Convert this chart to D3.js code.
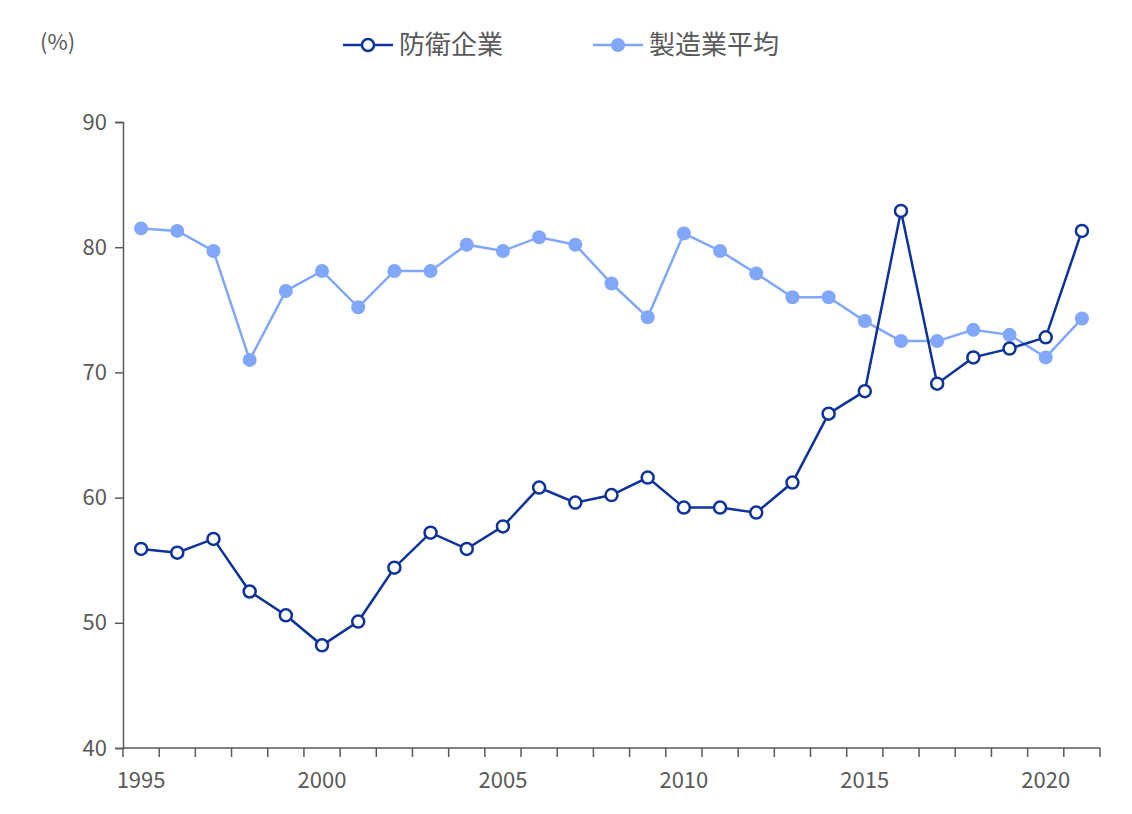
<!DOCTYPE html><html><head><meta charset="utf-8">
<script src="https://cdn.jsdelivr.net/npm/d3@7"></script>
<style>body{margin:0;background:#fff}text{font-family:"Noto Sans CJK JP","Noto Sans",sans-serif;fill:#595959}</style>
</head><body><svg id="c" width="1132" height="814"></svg>
<script>
const years=d3.range(1995,2022);
const defense=[55.9,55.6,56.7,52.5,50.6,48.2,50.1,54.4,57.2,55.9,57.7,60.8,59.6,60.2,61.6,59.2,59.2,58.8,61.2,66.7,68.5,82.9,69.1,71.2,71.9,72.8,81.3];
const manuf=[81.5,81.3,79.7,71.0,76.5,78.1,75.2,78.1,78.1,80.2,79.7,80.8,80.2,77.1,74.4,81.1,79.7,77.9,76.0,76.0,74.1,72.5,72.5,73.4,73.0,71.2,74.3];
const yTicks=[40,50,60,70,80,90];
const seriesNames=["防衛企業","製造業平均"];
const svg=d3.select("#c");
const L=123,R=1100,T=122,B=748;
const x=d3.scaleBand().domain(years).range([L,R]);
const y=d3.scaleLinear().domain([40,90]).range([B,T]);
const cx=d=>x(d)+x.bandwidth()/2;
const ax="#595959";
const gy=svg.append("g").attr("transform",`translate(${L},0)`).call(d3.axisLeft(y).tickValues(yTicks).tickSize(8).tickPadding(8));
gy.selectAll("path,line").attr("stroke",ax).attr("stroke-width",1.5);
gy.selectAll("text").style("font-size","22px").style("font-family","'Noto Sans CJK JP'").attr("fill",ax);
const gx=svg.append("g").attr("transform",`translate(0,${B})`);
gx.append("line").attr("x1",L).attr("x2",R).attr("stroke",ax).attr("stroke-width",1.5);
gx.selectAll("line.t").data(d3.range(years.length+1)).join("line").attr("x1",i=>L+i*x.bandwidth()).attr("x2",i=>L+i*x.bandwidth()).attr("y1",0).attr("y2",9).attr("stroke",ax).attr("stroke-width",1.5);
gx.selectAll("text").data(years.filter(d=>d%5==0)).join("text").attr("x",cx).attr("y",40).attr("text-anchor","middle").style("font-size","22px").text(d=>d);
svg.append("text").attr("x",40).attr("y",50).style("font-size","22px").text("(%)");
const line=d3.line().x((d,i)=>cx(years[i])).y(d=>y(d));
const cols=["#0d3299","#80a7fa"];
svg.append("path").datum(manuf).attr("d",line).attr("fill","none").attr("stroke",cols[1]).attr("stroke-width",2.5);
svg.selectAll("circle.m").data(manuf).join("circle").attr("cx",(d,i)=>cx(years[i])).attr("cy",d=>y(d)).attr("r",7).attr("fill",cols[1]);
svg.append("path").datum(defense).attr("d",line).attr("fill","none").attr("stroke",cols[0]).attr("stroke-width",2.5);
svg.selectAll("circle.d").data(defense).join("circle").attr("cx",(d,i)=>cx(years[i])).attr("cy",d=>y(d)).attr("r",6).attr("fill","#fff").attr("stroke",cols[0]).attr("stroke-width",2.5);
// legend
const lg=[{x:343,c:cols[0],open:true,t:seriesNames[0]},{x:593,c:cols[1],open:false,t:seriesNames[1]}];
lg.forEach(l=>{
 svg.append("line").attr("x1",l.x).attr("x2",l.x+50).attr("y1",45).attr("y2",45).attr("stroke",l.c).attr("stroke-width",2.5);
 svg.append("circle").attr("cx",l.x+25).attr("cy",45).attr("r",l.open?6:7).attr("fill",l.open?"#fff":l.c).attr("stroke",l.open?l.c:"none").attr("stroke-width",2.5);
 svg.append("text").attr("x",l.x+56).attr("y",54).style("font-size","26px").text(l.t);
});
</script></body></html>
